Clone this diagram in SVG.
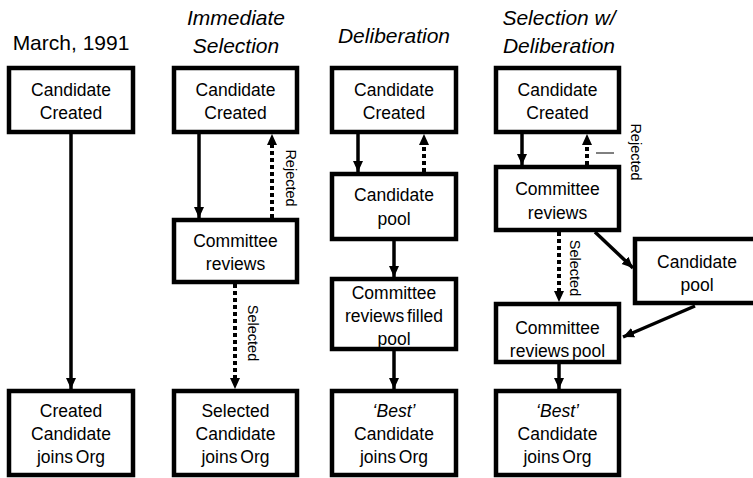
<svg xmlns="http://www.w3.org/2000/svg" width="753" height="478" viewBox="0 0 753 478">
<defs>
<marker id="ah" markerUnits="userSpaceOnUse" markerWidth="11" markerHeight="12" viewBox="0 0 11 12" refX="11" refY="6" orient="auto">
<path d="M0,1 L11,6 L0,11 Z" fill="#000"/>
</marker>
</defs>
<style>
.box{fill:#fff;stroke:#000;stroke-width:4.5}
.t{font-family:"Liberation Sans",Arial,sans-serif;font-size:17.5px;word-spacing:-2px;fill:#000;text-anchor:middle}
.h{font-family:"Liberation Sans",Arial,sans-serif;font-size:21px;fill:#000;text-anchor:middle}
.hi{font-style:italic}
.lbl{font-family:"Liberation Sans",Arial,sans-serif;font-size:14.5px;fill:#000;text-anchor:middle}
.s{stroke:#000;stroke-width:3.5;fill:none}
.d{stroke:#000;stroke-width:4;fill:none;stroke-dasharray:4 3}
.tip{stroke:#000;stroke-width:0.1;fill:none}
</style>
<g id="titles">
<text class="h" x="71" y="50">March, 1991</text>
<text class="h hi" x="236" y="25">Immediate</text>
<text class="h hi" x="236" y="53">Selection</text>
<text class="h hi" x="394" y="43">Deliberation</text>
<text class="h hi" x="559" y="25">Selection w/</text>
<text class="h hi" x="559" y="53">Deliberation</text>
</g>
<g id="connectors">
<line class="s" x1="71" y1="134" x2="71" y2="389" marker-end="url(#ah)"/>
<line class="s" x1="199" y1="134" x2="199" y2="218" marker-end="url(#ah)"/>
<line class="d" x1="272" y1="218" x2="272" y2="145"/>
<line class="tip" x1="272" y1="145" x2="272" y2="134" marker-end="url(#ah)"/>
<line class="d" x1="235" y1="284" x2="235" y2="378"/>
<line class="tip" x1="235" y1="378" x2="235" y2="389" marker-end="url(#ah)"/>
<line class="s" x1="358" y1="134" x2="358" y2="172" marker-end="url(#ah)"/>
<line class="d" x1="424" y1="172" x2="424" y2="145"/>
<line class="tip" x1="424" y1="145" x2="424" y2="134" marker-end="url(#ah)"/>
<line class="s" x1="394" y1="241" x2="394" y2="277" marker-end="url(#ah)"/>
<line class="s" x1="394" y1="351" x2="394" y2="389" marker-end="url(#ah)"/>
<line class="s" x1="522" y1="134" x2="522" y2="165" marker-end="url(#ah)"/>
<line class="d" x1="587" y1="165" x2="587" y2="145"/>
<line class="tip" x1="587" y1="145" x2="587" y2="134" marker-end="url(#ah)"/>
<line x1="596" y1="153" x2="614" y2="153" stroke="#000" stroke-width="1"/>
<line class="d" x1="559" y1="232" x2="559" y2="291"/>
<line class="tip" x1="559" y1="291" x2="559" y2="302" marker-end="url(#ah)"/>
<line class="s" x1="595" y1="232" x2="633" y2="268" marker-end="url(#ah)"/>
<line class="s" x1="695" y1="306" x2="623" y2="337" marker-end="url(#ah)"/>
<line class="s" x1="559" y1="364" x2="559" y2="389" marker-end="url(#ah)"/>
<text class="lbl" transform="translate(286,178) rotate(90)">Rejected</text>
<text class="lbl" transform="translate(248,333) rotate(90)">Selected</text>
<text class="lbl" transform="translate(631,152) rotate(90)">Rejected</text>
<text class="lbl" transform="translate(570,268) rotate(90)">Selected</text>
</g>
<g id="c1-created">
<rect class="box" x="9" y="68" width="124" height="64"/>
<text class="t" x="71" y="96">Candidate</text>
<text class="t" x="71" y="119">Created</text>
</g>
<g id="c1-joins">
<rect class="box" x="9" y="391" width="124" height="84"/>
<text class="t" x="71" y="417">Created</text>
<text class="t" x="71" y="440">Candidate</text>
<text class="t" x="71" y="463">joins Org</text>
</g>
<g id="c2-created">
<rect class="box" x="174" y="68" width="123" height="64"/>
<text class="t" x="235.5" y="96">Candidate</text>
<text class="t" x="235.5" y="119">Created</text>
</g>
<g id="c2-review">
<rect class="box" x="174" y="220" width="123" height="62"/>
<text class="t" x="235.5" y="247">Committee</text>
<text class="t" x="235.5" y="270">reviews</text>
</g>
<g id="c2-joins">
<rect class="box" x="174" y="391" width="123" height="84"/>
<text class="t" x="235.5" y="417">Selected</text>
<text class="t" x="235.5" y="440">Candidate</text>
<text class="t" x="235.5" y="463">joins Org</text>
</g>
<g id="c3-created">
<rect class="box" x="332" y="68" width="124" height="64"/>
<text class="t" x="394" y="96">Candidate</text>
<text class="t" x="394" y="119">Created</text>
</g>
<g id="c3-pool">
<rect class="box" x="332" y="174" width="124" height="65"/>
<text class="t" x="394" y="201">Candidate</text>
<text class="t" x="394" y="225">pool</text>
</g>
<g id="c3-review">
<rect class="box" x="332" y="279" width="124" height="70"/>
<text class="t" x="394" y="299">Committee</text>
<text class="t" x="394" y="322">reviews filled</text>
<text class="t" x="394" y="345">pool</text>
</g>
<g id="c3-joins">
<rect class="box" x="332" y="391" width="124" height="84"/>
<text class="t hi" x="394" y="417">‘Best’</text>
<text class="t" x="394" y="440">Candidate</text>
<text class="t" x="394" y="463">joins Org</text>
</g>
<g id="c4-created">
<rect class="box" x="496" y="68" width="123" height="64"/>
<text class="t" x="557.5" y="96">Candidate</text>
<text class="t" x="557.5" y="119">Created</text>
</g>
<g id="c4-review">
<rect class="box" x="496" y="167" width="123" height="63"/>
<text class="t" x="557.5" y="195">Committee</text>
<text class="t" x="557.5" y="219">reviews</text>
</g>
<g id="c4-pool">
<rect class="box" x="635" y="239" width="130" height="64"/>
<text class="t" x="697" y="268">Candidate</text>
<text class="t" x="697" y="291">pool</text>
</g>
<g id="c4-reviewpool">
<rect class="box" x="496" y="304" width="123" height="58"/>
<text class="t" x="557.5" y="334">Committee</text>
<text class="t" x="557.5" y="357">reviews pool</text>
</g>
<g id="c4-joins">
<rect class="box" x="496" y="391" width="123" height="84"/>
<text class="t hi" x="557.5" y="417">‘Best’</text>
<text class="t" x="557.5" y="440">Candidate</text>
<text class="t" x="557.5" y="463">joins Org</text>
</g>
</svg>
